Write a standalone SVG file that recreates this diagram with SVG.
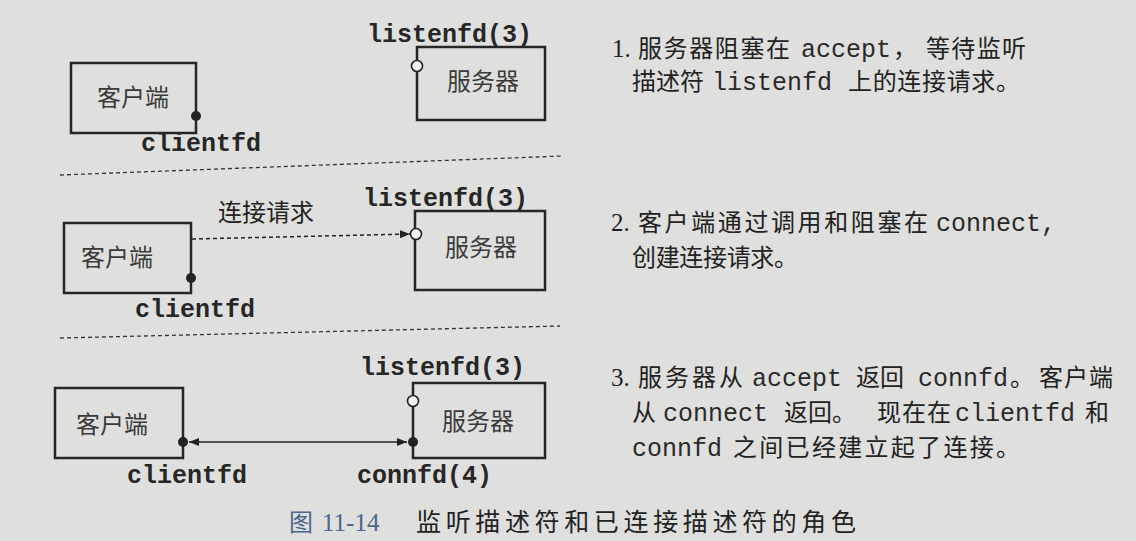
<svg xmlns="http://www.w3.org/2000/svg" width="1136" height="541" viewBox="0 0 1136 541">
<defs>
<style>
.box{fill:none;stroke:#262626;stroke-width:2.5}
.lbl{font-family:"Noto Sans CJK SC",sans-serif;font-size:24px;fill:#3a3a3a;text-anchor:middle}
.mono{font-family:"Liberation Mono",monospace;font-size:25px;font-weight:bold;fill:#262626}
.cjk{font-family:"Noto Sans CJK SC",sans-serif;font-size:24px;fill:#222}
.tm{font-family:"Liberation Mono",monospace;font-size:25px;fill:#2a2a2a}
.num{font-family:"Liberation Serif",serif;font-size:25px;fill:#222}
.sep{stroke:#333;stroke-width:1.3;stroke-dasharray:4 3;fill:none}
.dot{fill:#222}
.open{fill:#f2f2f0;stroke:#222;stroke-width:1.6}
</style>
<marker id="ah" viewBox="0 0 10 8" refX="10" refY="4" markerWidth="10" markerHeight="8" markerUnits="userSpaceOnUse" orient="auto-start-reverse">
<path d="M0,0 L10,4 L0,8 Z" fill="#222"/>
</marker>
</defs>
<rect width="1136" height="541" fill="#dfdfdd"/>

<!-- Panel 1 -->
<g id="client1">
<rect class="box" x="71" y="63" width="125" height="70"/>
<text class="lbl" x="133" y="106">客户端</text>
<circle class="dot" cx="196" cy="116" r="5"/>
<text class="mono" x="141" y="151">clientfd</text>
</g>
<g id="server1">
<rect class="box" x="417" y="47" width="128" height="73"/>
<text class="lbl" x="483" y="90">服务器</text>
<circle class="open" cx="417" cy="66" r="5.5"/>
<text class="mono" x="367" y="42">listenfd(3)</text>
</g>

<!-- Panel 2 -->
<g id="client2">
<rect class="box" x="64" y="223" width="127" height="70"/>
<text class="lbl" x="117" y="266">客户端</text>
<circle class="dot" cx="191" cy="278" r="5"/>
<text class="mono" x="135" y="317">clientfd</text>
</g>
<g id="server2">
<rect class="box" x="415" y="211" width="130" height="79"/>
<text class="lbl" x="481" y="256">服务器</text>
<circle class="open" cx="416" cy="234" r="5.5"/>
<text class="mono" x="363" y="206">listenfd(3)</text>
</g>

<!-- Panel 3 -->
<g id="client3">
<rect class="box" x="55" y="388" width="128" height="70"/>
<text class="lbl" x="112" y="433">客户端</text>
<circle class="dot" cx="183" cy="442" r="5"/>
<text class="mono" x="127" y="483">clientfd</text>
</g>
<g id="server3">
<rect class="box" x="413" y="383" width="132" height="75"/>
<text class="lbl" x="478" y="430">服务器</text>
<circle class="open" cx="413" cy="401" r="5.5"/>
<circle class="dot" cx="413" cy="442" r="5"/>
<text class="mono" x="360" y="375">listenfd(3)</text>
<text class="mono" x="357" y="483">connfd(4)</text>
</g>

<g id="connectors">
<line class="sep" x1="60" y1="175" x2="562" y2="156"/>
<line class="sep" x1="60" y1="338" x2="560" y2="326"/>
<line x1="192" y1="239" x2="410" y2="234" stroke="#222" stroke-width="1.5" stroke-dasharray="4 3" marker-end="url(#ah)"/>
<text class="cjk" x="218" y="221">连接请求</text>
<line x1="189" y1="442" x2="407" y2="442" stroke="#222" stroke-width="1.5" marker-start="url(#ah)" marker-end="url(#ah)"/>
</g>

<!-- Descriptions -->
<g id="desc1">
<text class="num" x="612" y="57">1.</text>
<text class="cjk" x="638" y="57" textLength="152" lengthAdjust="spacing">服务器阻塞在</text>
<text class="tm" x="801" y="57">accept</text>
<text class="cjk" x="893" y="57">，</text>
<text class="cjk" x="926" y="57" textLength="100" lengthAdjust="spacing">等待监听</text>
<text class="cjk" x="632" y="90" textLength="72" lengthAdjust="spacing">描述符</text>
<text class="tm" x="712" y="90">listenfd</text>
<text class="cjk" x="848" y="90" textLength="172" lengthAdjust="spacing">上的连接请求。</text>
</g>
<g id="desc2">
<text class="num" x="611" y="231">2.</text>
<text class="cjk" x="638" y="231" textLength="290" lengthAdjust="spacing">客户端通过调用和阻塞在</text>
<text class="tm" x="936" y="231">connect,</text>
<text class="cjk" x="632" y="266" textLength="166" lengthAdjust="spacing">创建连接请求。</text>
</g>
<g id="desc3">
<text class="num" x="611" y="386">3.</text>
<text class="cjk" x="638" y="386" textLength="105" lengthAdjust="spacing">服务器从</text>
<text class="tm" x="752" y="386">accept</text>
<text class="cjk" x="856" y="386">返回</text>
<text class="tm" x="918" y="386">connfd</text>
<text class="cjk" x="1010" y="386">。</text>
<text class="cjk" x="1039" y="386" textLength="74" lengthAdjust="spacing">客户端</text>
<text class="cjk" x="632" y="421">从</text>
<text class="tm" x="663" y="421">connect</text>
<text class="cjk" x="784" y="421">返回。</text>
<text class="cjk" x="877" y="421" textLength="74" lengthAdjust="spacing">现在在</text>
<text class="tm" x="955" y="421">clientfd</text>
<text class="cjk" x="1085" y="421">和</text>
<text class="tm" x="632" y="456">connfd</text>
<text class="cjk" x="733" y="456" textLength="287" lengthAdjust="spacing">之间已经建立起了连接。</text>
</g>

<g id="caption">
<text x="289" y="531" font-family="'Noto Sans CJK SC',sans-serif" font-size="24" fill="#4a6590">图</text>
<text x="322" y="531" font-family="'Liberation Serif',serif" font-size="25" fill="#4a6590">11-14</text>
<text x="416" y="531" font-family="'Noto Sans CJK SC',sans-serif" font-size="25" fill="#222" textLength="440" lengthAdjust="spacing">监听描述符和已连接描述符的角色</text>
</g>
</svg>
